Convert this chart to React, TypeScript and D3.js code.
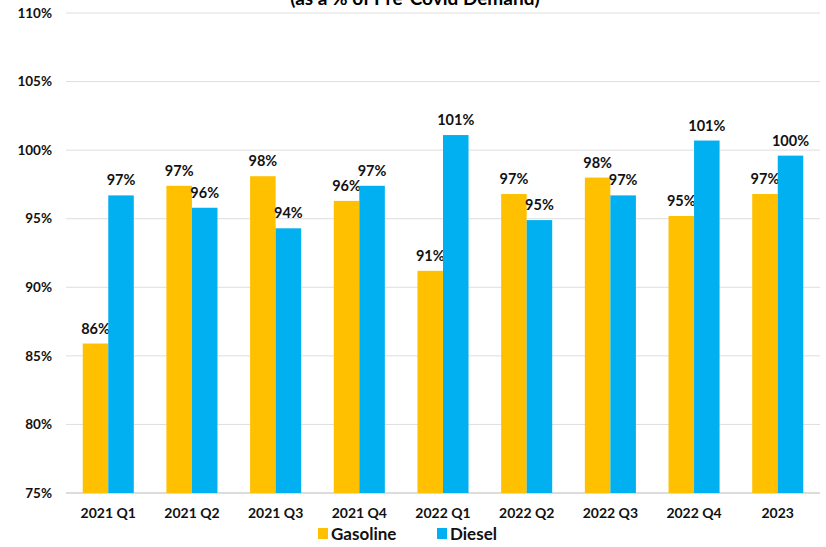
import React from "react";
import * as d3 from "d3";

const categories = ["2021 Q1", "2021 Q2", "2021 Q3", "2021 Q4", "2022 Q1", "2022 Q2", "2022 Q3", "2022 Q4", "2023"];
const gasoline = [85.9, 97.4, 98.1, 96.3, 91.2, 96.8, 98.0, 95.2, 96.8];
const diesel = [96.7, 95.8, 94.3, 97.4, 101.1, 94.9, 96.7, 100.7, 99.6];
const seriesNames = ["Gasoline", "Diesel"];
const yTicks = [75, 80, 85, 90, 95, 100, 105, 110];
const title = "(as a % of Pre-Covid Demand)";

const colors = ["#FFC000", "#00B0F0"];
const W = 826, H = 547;
const font = "Lato, 'Open Sans', sans-serif";

export default function App() {
  const x = d3.scaleBand().domain(categories).range([66, 820]).paddingInner(0.39).paddingOuter(0.2);
  const y = d3.scaleLinear().domain([75, 110]).range([493, 13]);
  const x1 = d3.scaleBand().domain(seriesNames).range([0, x.bandwidth()]);
  const series = [gasoline, diesel];

  return (
    <svg width={W} height={H} style={{ position: "absolute", left: 0, top: 0, background: "#fff" }} fontFamily={font}>
      <text x={415} y={5} textAnchor="middle" fontSize={19} fontWeight="bold" fill="#000">{title}</text>
      {yTicks.map((t) => (
        <g key={t}>
          <line x1={66} x2={820} y1={y(t)} y2={y(t)} stroke={t === 75 ? "#d0d0d0" : "#dedede"} strokeWidth={t === 75 ? 1.5 : 1} />
          <text x={52} y={y(t)} dy="0.35em" textAnchor="end" fontSize={13.5} fontWeight="bold" fill="#111">{t}%</text>
        </g>
      ))}
      {categories.map((c, i) => (
        <g key={c}>
          {series.map((s, j) => {
            const bx = (x(c) as number) + (x1(seriesNames[j]) as number);
            const v = s[i];
            return (
              <g key={j}>
                <rect x={bx} y={y(v)} width={x1.bandwidth()} height={y(75) - y(v)} fill={colors[j]} />
                <text x={bx + x1.bandwidth() / 2} y={y(v) - 10} textAnchor="middle" fontSize={14.5} fontWeight="bold" fill="#111">{Math.round(v)}%</text>
              </g>
            );
          })}
          <text x={(x(c) as number) + x.bandwidth() / 2} y={518} textAnchor="middle" fontSize={14} fontWeight="bold" fill="#111">{c}</text>
        </g>
      ))}
      <g>
        <rect x={318} y={528} width={10} height={11} fill={colors[0]} />
        <text x={331} y={540} fontSize={17} fontWeight="bold" fill="#111">{seriesNames[0]}</text>
        <rect x={437} y={528} width={10} height={11} fill={colors[1]} />
        <text x={450} y={540} fontSize={17} fontWeight="bold" fill="#111">{seriesNames[1]}</text>
      </g>
    </svg>
  );
}
